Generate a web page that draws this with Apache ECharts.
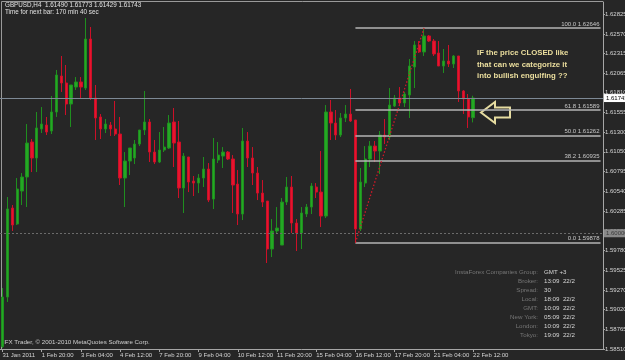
<!DOCTYPE html>
<html><head><meta charset="utf-8">
<script src="https://cdn.jsdelivr.net/npm/echarts@6/dist/echarts.min.js"></script>
<style>html,body{margin:0;padding:0;background:#262626}#c{width:625px;height:360px}</style>
</head><body><div id="c"></div>
<script>
// trading days / bar hours (H4) used to build the bar time categories
const tradingDays = ['31 Jan','1 Feb','2 Feb','3 Feb','4 Feb','7 Feb','8 Feb','9 Feb','10 Feb','11 Feb','14 Feb','15 Feb','16 Feb','17 Feb','18 Feb','21 Feb','22 Feb'];
const barHours = ['00:00','04:00','08:00','12:00','16:00','20:00'];
const emptyBarsRight = 26;

const xTickLabels = ['31 Jan 2011','1 Feb 20:00','3 Feb 04:00','4 Feb 12:00','7 Feb 20:00','9 Feb 04:00','10 Feb 12:00','11 Feb 20:00','15 Feb 04:00','16 Feb 12:00','17 Feb 20:00','21 Feb 04:00','22 Feb 12:00'];
const yTicks = [1.58510,1.58765,1.59020,1.59270,1.59525,1.59780,1.60030,1.60285,1.60540,1.60795,1.61050,1.61300,1.61555,1.61810,1.62065,1.62315,1.62570,1.62825];

const openP = [1.58540,1.59178,1.60325,1.60119,1.60544,1.60725,1.61176,1.60970,1.61344,1.61395,
1.61318,1.61563,1.62027,1.61937,1.61666,1.61885,1.61950,1.61872,1.62504,1.61744,
1.61499,1.61344,1.61395,1.61344,1.61279,1.60712,1.60931,1.60970,1.61150,1.61331,
1.61434,1.61047,1.60918,1.61073,1.61099,1.61434,1.61176,1.60583,1.60983,1.60673,
1.60647,1.60712,1.60828,1.60441,1.60944,1.60995,1.61047,1.60957,1.60634,1.60248,
1.61189,1.60970,1.60776,1.60518,1.60415,1.59797,1.60029,1.59848,1.60402,1.60596,
1.60132,1.60003,1.60248,1.60338,1.60596,1.60531,1.60222,1.61563,1.61421,1.61266,
1.61486,1.61537,1.61460,1.60055,1.60647,1.60957,1.61124,1.61060,1.61266,1.61241,
1.61640,1.61744,1.61679,1.61782,1.62143,1.62427,1.62337,1.62543,1.62478,1.62324,
1.62156,1.62221,1.62182,1.62285,1.61834,1.61731,1.61490];
const closeP = [1.59178,1.60313,1.60106,1.60570,1.60725,1.61163,1.60970,1.61357,1.61408,1.61305,
1.61563,1.62040,1.61937,1.61666,1.61911,1.61950,1.61885,1.62504,1.61744,1.61486,
1.61344,1.61408,1.61344,1.61279,1.60712,1.60931,1.61099,1.61150,1.61331,1.61434,
1.61047,1.60918,1.61073,1.61111,1.61421,1.61163,1.60583,1.60995,1.60660,1.60647,
1.60712,1.60828,1.60428,1.60957,1.61008,1.61047,1.60957,1.60622,1.60248,1.61189,
1.60970,1.60776,1.60518,1.60402,1.59797,1.60029,1.60067,1.60402,1.60596,1.60132,
1.60003,1.60261,1.60338,1.60609,1.60531,1.60222,1.61563,1.61421,1.61266,1.61486,
1.61537,1.61447,1.60055,1.60660,1.60957,1.61124,1.61060,1.61266,1.61241,1.61653,
1.61744,1.61679,1.61795,1.62156,1.62427,1.62337,1.62543,1.62478,1.62311,1.62156,
1.62221,1.62182,1.62285,1.61834,1.61731,1.61499,1.61743];
const lowP = [1.58520,1.59114,1.60029,1.60106,1.60364,1.60338,1.60789,1.60789,1.61292,1.61266,
1.61279,1.61499,1.61821,1.61524,1.61370,1.61847,1.61731,1.61847,1.61718,1.61202,
1.61215,1.61292,1.61254,1.61254,1.60622,1.60338,1.60750,1.60892,1.61124,1.61266,
1.60918,1.60892,1.60905,1.61047,1.61086,1.60854,1.60454,1.60261,1.60531,1.60480,
1.60518,1.60596,1.60402,1.60312,1.60905,1.60841,1.60944,1.60261,1.60106,1.60170,
1.60854,1.60622,1.60428,1.60338,1.59616,1.59693,1.60003,1.59848,1.60364,1.60003,
1.59771,1.59797,1.60209,1.60248,1.60454,1.60080,1.60196,1.61202,1.61202,1.61241,
1.61434,1.61434,1.59878,1.60029,1.60596,1.60854,1.60918,1.60763,1.61150,1.61202,
1.61627,1.61640,1.61627,1.61486,1.61872,1.62324,1.62285,1.62466,1.62285,1.62156,
1.62066,1.62143,1.62130,1.61692,1.61537,1.61357,1.61429];
const highP = [1.59294,1.60467,1.60364,1.60712,1.60776,1.61408,1.61215,1.61563,1.61627,1.61499,
1.61769,1.62105,1.62285,1.62169,1.61911,1.62014,1.62014,1.62775,1.62659,1.61911,
1.61537,1.61473,1.61434,1.61705,1.61499,1.61047,1.61099,1.61202,1.61331,1.61834,
1.61473,1.61202,1.61305,1.61370,1.61524,1.61615,1.61447,1.61034,1.60983,1.60738,
1.60763,1.60983,1.60905,1.61228,1.61176,1.61111,1.61060,1.61008,1.60815,1.61357,
1.61305,1.61111,1.60854,1.60686,1.60415,1.60183,1.60338,1.60454,1.60725,1.60738,
1.60183,1.60338,1.60377,1.60647,1.60647,1.61060,1.61653,1.61718,1.61589,1.61550,
1.61653,1.61860,1.61460,1.60841,1.61124,1.61189,1.61189,1.61318,1.61473,1.61872,
1.61782,1.61885,1.61821,1.62246,1.62478,1.62478,1.62646,1.62556,1.62504,1.62478,
1.62375,1.62427,1.62298,1.62285,1.61847,1.61795,1.61773];

const fibRatios = ['100.0','61.8','50.0','38.2','0.0'];
const fibPrices = [1.62646,1.61589,1.61262,1.60935,1.59878];
const fibStartBar = 72, fibEndBar = 86;
const bidPrice = 1.61743;
const roundLevel = 1.60000;

const headerText = 'GBPUSD,H4  1.61490 1.61773 1.61429 1.61743';
const timerText = 'Time for next bar: 170 min 40 sec';
const noteLines = ['IF the price CLOSED like','that can we categorize it','into bullish engulfing ??'];
const infoLabels = ['InstaForex Companies Group:','Broker:','Spread:','Local:','GMT:','New York:','London:','Tokyo:'];
const infoValues = ['GMT +3','13:09  22/2','30','18:09  22/2','10:09  22/2','05:09  22/2','10:09  22/2','19:09  22/2'];
const copyrightText = 'IFX Trader, \u00a9 2001-2010 MetaQuotes Software Corp.';

// build categories
const allTimes = [];
tradingDays.forEach(d => barHours.forEach(h => allTimes.push(d + ' ' + h)));
const barCount = openP.length;
const cats = allTimes.slice(3, 3 + barCount);
for (let k = 0; k < emptyBarsRight; k++) cats.push('pad' + k);
const candleData = openP.map((o, i) => [o, closeP[i], lowP[i], highP[i]]);

const FONT = '"Liberation Sans", Arial, sans-serif';
const GRID = {left: 0, right: 22, top: 2, bottom: 11};
const isTickIdx = (i) => i % 8 === 0 && i <= 96;

const fibLines = fibPrices.map((p, k) => [
  {coord: [cats[fibStartBar], p], lineStyle: {color: '#b4b4b4', width: 1.6, type: 'solid'},
   label: {show: true, position: 'insideEndTop', formatter: fibRatios[k] + ' ' + p.toFixed(5), color: '#c8c8c8', fontSize: 6, fontFamily: FONT, distance: 1}},
  {coord: [cats[cats.length - 1], p]}
]);

const markLineData = [
  {yAxis: bidPrice, lineStyle: {color: '#7d8995', width: 1, type: 'solid'},
   label: {show: true, position: 'end', formatter: bidPrice.toFixed(5), color: '#000', backgroundColor: '#ffffff', fontSize: 6, fontFamily: FONT, padding: [1, 3, 1, 2], distance: 1}},
  {yAxis: roundLevel, lineStyle: {color: '#6b6b6b', width: 1, type: [2, 2]},
   label: {show: true, position: 'end', formatter: roundLevel.toFixed(5), color: '#3a3a3a', backgroundColor: '#8a8a8a', fontSize: 6, fontFamily: FONT, padding: [1, 3, 1, 2], distance: 1}},
  ...fibLines,
  [{coord: [cats[fibStartBar], fibPrices[4]], lineStyle: {color: '#d01828', width: 1.3, type: [1.5, 2]}, label: {show: false}},
   {coord: [cats[fibEndBar], fibPrices[0]]}]
];

const graphics = [
  {type: 'line', shape: {x1: 1.5, y1: 1.5, x2: 603, y2: 1.5}, style: {stroke: '#9a9a9a', lineWidth: 1}, silent: true},
  {type: 'line', shape: {x1: 1.5, y1: 1.5, x2: 1.5, y2: 349}, style: {stroke: '#9a9a9a', lineWidth: 1}, silent: true},
  {type: 'text', left: 5, top: 2, style: {text: headerText, fill: '#e2e2e2', font: '6.3px ' + FONT}, silent: true},
  {type: 'text', left: 5, top: 9, style: {text: timerText, fill: '#e2e2e2', font: '6.3px ' + FONT}, silent: true},
  {type: 'text', left: 3, top: 339, style: {text: copyrightText, fill: '#cfcfcf', font: '6.2px ' + FONT}, silent: true},
  {type: 'polygon', shape: {points: [[481, 112.5], [495, 102], [495, 107.5], [510, 107.5], [510, 117.5], [495, 117.5], [495, 123]]},
   style: {fill: '#262626', stroke: '#e6dca0', lineWidth: 2}, silent: true}
];
noteLines.forEach((t, k) => graphics.push({type: 'text', x: 477, y: 53 + k * 11.5,
  style: {text: t, fill: '#ecdf9e', font: 'bold 7.8px ' + FONT, textVerticalAlign: 'middle'}, silent: true}));
infoLabels.forEach((t, k) => {
  const y = 272.3 + k * 9.05;
  graphics.push({type: 'text', x: 538, y: y, style: {text: t, fill: '#767676', font: '6.2px ' + FONT, textAlign: 'right', textVerticalAlign: 'middle'}, silent: true});
  graphics.push({type: 'text', x: 544, y: y, style: {text: infoValues[k], fill: '#d6d6d6', font: '6.2px ' + FONT, textAlign: 'left', textVerticalAlign: 'middle'}, silent: true});
});

const chart = echarts.init(document.getElementById('c'), null, {renderer: 'canvas'});
chart.setOption({
  backgroundColor: '#262626',
  animation: false,
  grid: Object.assign({show: false, outerBoundsMode: 'none', containLabel: false}, GRID),
  xAxis: {
    type: 'category', data: cats, boundaryGap: true,
    axisLine: {show: true, lineStyle: {color: '#a6a6a6', width: 1}},
    axisTick: {show: true, alignWithLabel: true, interval: (i) => isTickIdx(i), length: 3, lineStyle: {color: '#a6a6a6'}},
    axisLabel: {show: true, interval: (i) => isTickIdx(i), formatter: (v, i) => xTickLabels[Math.round(i / 8)] || '',
      align: 'left', color: '#d4d4d4', fontSize: 6, fontFamily: FONT, margin: 3},
    splitLine: {show: false}
  },
  yAxis: {
    type: 'value', position: 'right', min: 1.58508, max: 1.62981, scale: true,
    axisLine: {show: true, lineStyle: {color: '#a6a6a6', width: 1}},
    axisTick: {show: true, customValues: yTicks, length: 2, lineStyle: {color: '#a6a6a6'}},
    axisLabel: {show: true, customValues: yTicks, formatter: (v) => v.toFixed(5), color: '#d4d4d4', fontSize: 6, fontFamily: FONT, margin: 2},
    splitLine: {show: false}
  },
  series: [{
    type: 'candlestick', data: candleData, barWidth: 2.8,
    itemStyle: {color: '#24a824', color0: '#e8142e', borderColor: '#1f8f1f', borderColor0: '#cc1028', borderWidth: 1},
    markLine: {symbol: ['none', 'none'], silent: true, animation: false, precision: 5, data: markLineData}
  }],
  graphic: graphics
});
</script></body></html>
